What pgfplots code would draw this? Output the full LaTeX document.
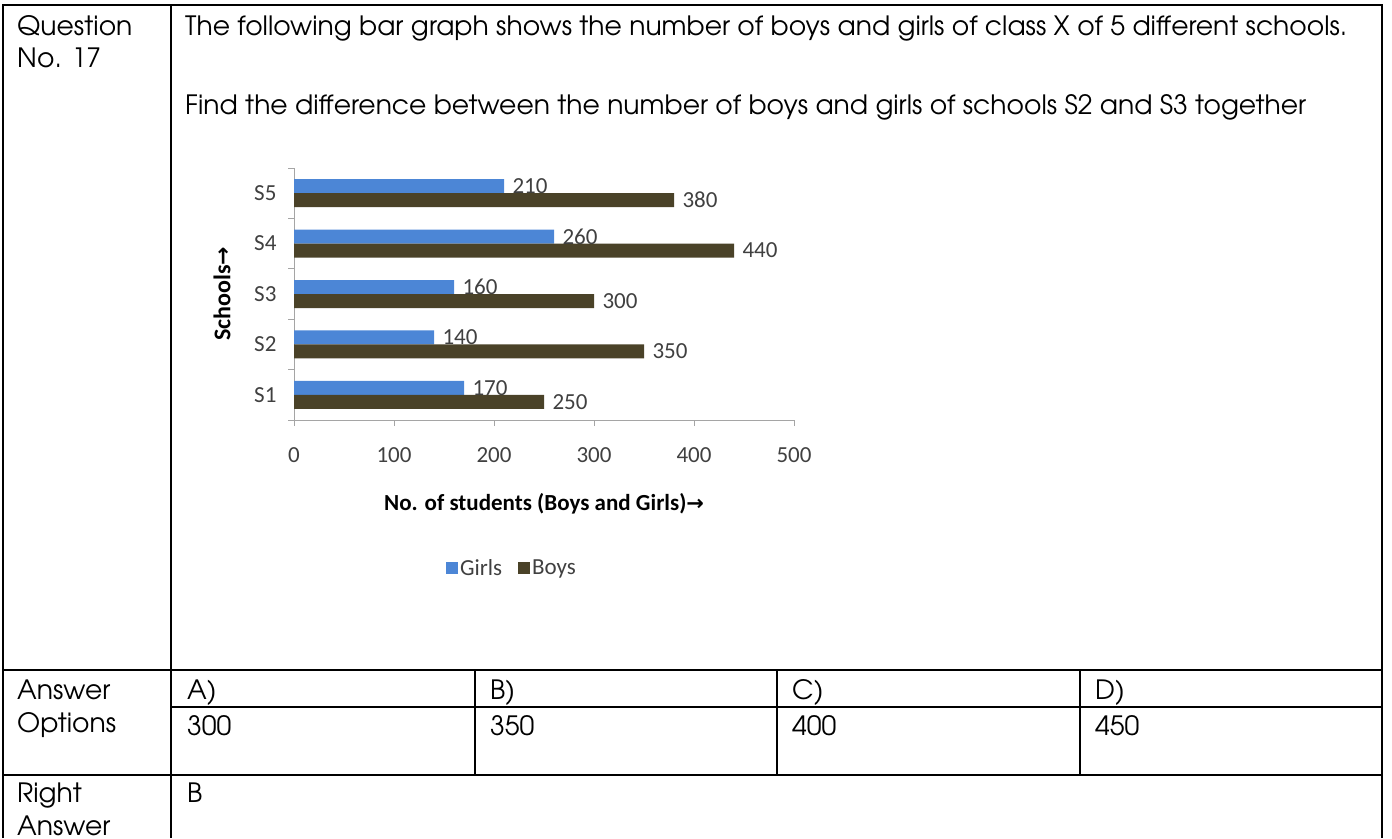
\documentclass[border=0pt]{standalone}
\usepackage{fontspec}
\setmainfont{TeX Gyre Adventor}
\newfontfamily\calfont{Carlito}
\newfontfamily\djv{DejaVu Sans}
\usepackage{pgfplots}
\pgfplotsset{compat=1.18}
\definecolor{girls}{RGB}{76,134,214}
\definecolor{boys}{RGB}{74,66,40}
\definecolor{lab}{RGB}{64,64,64}
\definecolor{axisgray}{RGB}{165,165,165}
\newcommand{\tf}{\fontsize{26.6}{32}\selectfont}
\newcommand{\cf}{\calfont\fontsize{23}{23}\selectfont}
\begin{document}
\begin{tikzpicture}[x=1pt,y=-1pt]
\path[use as bounding box] (0,0) rectangle (1392,838);
% table rules
\draw[line width=2.5pt] (3,838) -- (3,5) -- (1382,5) -- (1382,838);
\draw[line width=2.5pt] (171,5) -- (171,838);
\draw[line width=2.5pt] (3,670) -- (1382,670);
\draw[line width=2.5pt] (3,775) -- (1382,775);
\draw[line width=2.5pt] (171,707) -- (1382,707);
\foreach \x in {475,777,1080} \draw[line width=2.5pt] (\x,670) -- (\x,775);
% table text
\begin{scope}[every node/.style={anchor=base west,inner sep=0pt,font=\tf}]
\node at (17,35) {Question};
\node at (17,67) {No. 17};
\node at (185,35) {The following bar graph shows the number of boys and girls of class X of 5 different schools.};
\node at (185,114) {Find the difference between the number of boys and girls of schools S2 and S3 together};
\node at (17,699) {Answer};
\node at (17,732) {Options};
\node at (187,699) {A)};
\node at (490,699) {B)};
\node at (792,699) {C)};
\node at (1095,699) {D)};
\node at (187,735) {300};
\node at (490,735) {350};
\node at (792,735) {400};
\node at (1095,735) {450};
\node at (17,802) {Right};
\node at (17,835) {Answer};
\node at (187,802) {B};
\end{scope}
\begin{axis}[
  at={(294pt,-420pt)}, anchor=south west,
  scale only axis, width=500pt, height=252pt,
  xmin=0, xmax=500, ymin=0.5, ymax=5.5,
  clip=false,
  axis x line*=bottom, axis y line*=left,
  axis line style={axisgray, line width=1pt, -},
  tick align=outside, major tick length=6pt,
  tick style={axisgray, line width=1pt},
  xtick={0,100,200,300,400,500},
  ytick={0.5,1.5,2.5,3.5,4.5,5.5}, yticklabels={},
  extra y ticks={1,2,3,4,5},
  extra y tick labels={S1,S2,S3,S4,S5},
  extra y tick style={major tick length=0pt},
  /pgf/number format/assume math mode=true,
  xticklabel style={font=\cf, text=lab, yshift=-18pt},
  yticklabel style={font=\cf, text=lab, xshift=-14pt},
  xlabel={No. of students (Boys and Girls){\djv\bfseries\fontsize{21}{21}\selectfont→}},
  xlabel style={at={(axis description cs:0.5,0)}, anchor=center, yshift=-84pt, font=\calfont\bfseries\fontsize{23}{23}\selectfont},
  ylabel={Schools{\djv\bfseries\fontsize{22}{22}\selectfont→}},
  ylabel style={at={(axis description cs:-0.144,0.5)}, anchor=center, font=\calfont\bfseries\fontsize{24}{24}\selectfont},
  xbar, bar width=14pt,
  nodes near coords,
  nodes near coords style={font=\cf, text=lab, anchor=west, xshift=5pt},
  legend style={at={(0.436,-0.587)}, anchor=center, draw=none, fill=none, legend columns=2,
    font=\calfont\fontsize{23}{23}\selectfont, text=lab,
    /tikz/every even column/.append style={column sep=14pt}},
  legend image code/.code={\fill[#1] (0pt,-6pt) rectangle (12pt,6pt);},
]
\addplot[xbar, fill=girls, draw=none, bar shift=7pt] coordinates {(170,1) (140,2) (160,3) (260,4) (210,5)};
\addplot[xbar, fill=boys, draw=none, bar shift=-7pt] coordinates {(250,1) (350,2) (300,3) (440,4) (380,5)};
\legend{Girls,Boys}
\end{axis}
\end{tikzpicture}
\end{document}
